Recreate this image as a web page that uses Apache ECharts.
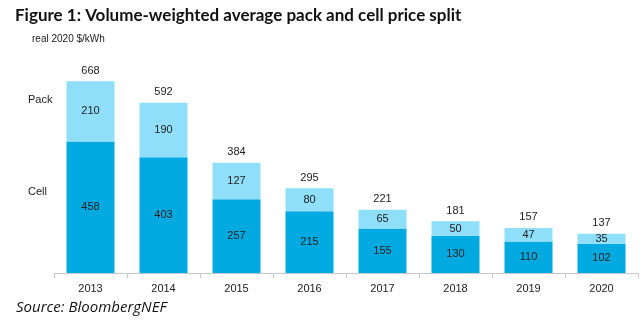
<!DOCTYPE html>
<html><head><meta charset="utf-8">
<script src="https://cdn.jsdelivr.net/npm/echarts@6/dist/echarts.min.js"></script>
<style>html,body{margin:0;padding:0;background:#fff}#c{width:640px;height:322px}</style>
</head><body><div id="c"></div>
<script>
const years = ['2013','2014','2015','2016','2017','2018','2019','2020'];
const cell = [458,403,257,215,155,130,110,102];
const pack = [210,190,127,80,65,50,47,35];
const totals = [668,592,384,295,221,181,157,137];

const chart = echarts.init(document.getElementById('c'));
const lbl = {show:true, position:'inside', color:'#222', fontSize:11, fontFamily:'Liberation Sans, Arial'};
chart.setOption({
  backgroundColor:'#fff',
  animation:false,
  title:[
    {text:'Figure 1: Volume-weighted average pack and cell price split', left:10, top:2,
     textStyle:{fontFamily:'Lato', fontWeight:'bold', fontSize:17, color:'#111'}},
    {text:'real 2020 $/kWh', left:27, top:29, textStyle:{fontFamily:'Liberation Sans, Arial', fontWeight:'normal', fontSize:10, color:'#222'}},
    {text:'Pack', left:23, top:89, textStyle:{fontFamily:'Liberation Sans, Arial', fontWeight:'normal', fontSize:11, color:'#222'}},
    {text:'Cell', left:23, top:181, textStyle:{fontFamily:'Liberation Sans, Arial', fontWeight:'normal', fontSize:11, color:'#222'}},
    {text:'Source: BloombergNEF', left:11, top:295, textStyle:{fontFamily:'Open Sans', fontStyle:'italic', fontWeight:'normal', fontSize:15, color:'#111'}}
  ],
  grid:{left:54, right:2, top:72, bottom:49},
  xAxis:{type:'category', data:years, boundaryGap:true,
    axisLine:{lineStyle:{color:'#c8c8c8'}},
    axisTick:{show:true, alignWithLabel:false, length:5, lineStyle:{color:'#c8c8c8'}},
    axisLabel:{color:'#222', fontSize:11, fontFamily:'Liberation Sans, Arial', margin:10}},
  yAxis:{type:'value', min:0, max:700, show:false, splitLine:{show:false}},
  series:[
    {name:'Cell', type:'bar', stack:'s', data:cell, barWidth:48, itemStyle:{color:'#00A9E0'}, label:lbl},
    {name:'Pack', type:'bar', stack:'s', data:pack, barWidth:48, itemStyle:{color:'#8FDFFB'}, label:lbl},
    {name:'Total', type:'bar', stack:'s', data:totals.map(()=>0), barWidth:48, itemStyle:{color:'transparent'},
     label:{show:true, position:'top', distance:5, color:'#222', fontSize:11, fontFamily:'Liberation Sans, Arial',
       formatter:p=>totals[p.dataIndex]}}
  ]
});
</script></body></html>
